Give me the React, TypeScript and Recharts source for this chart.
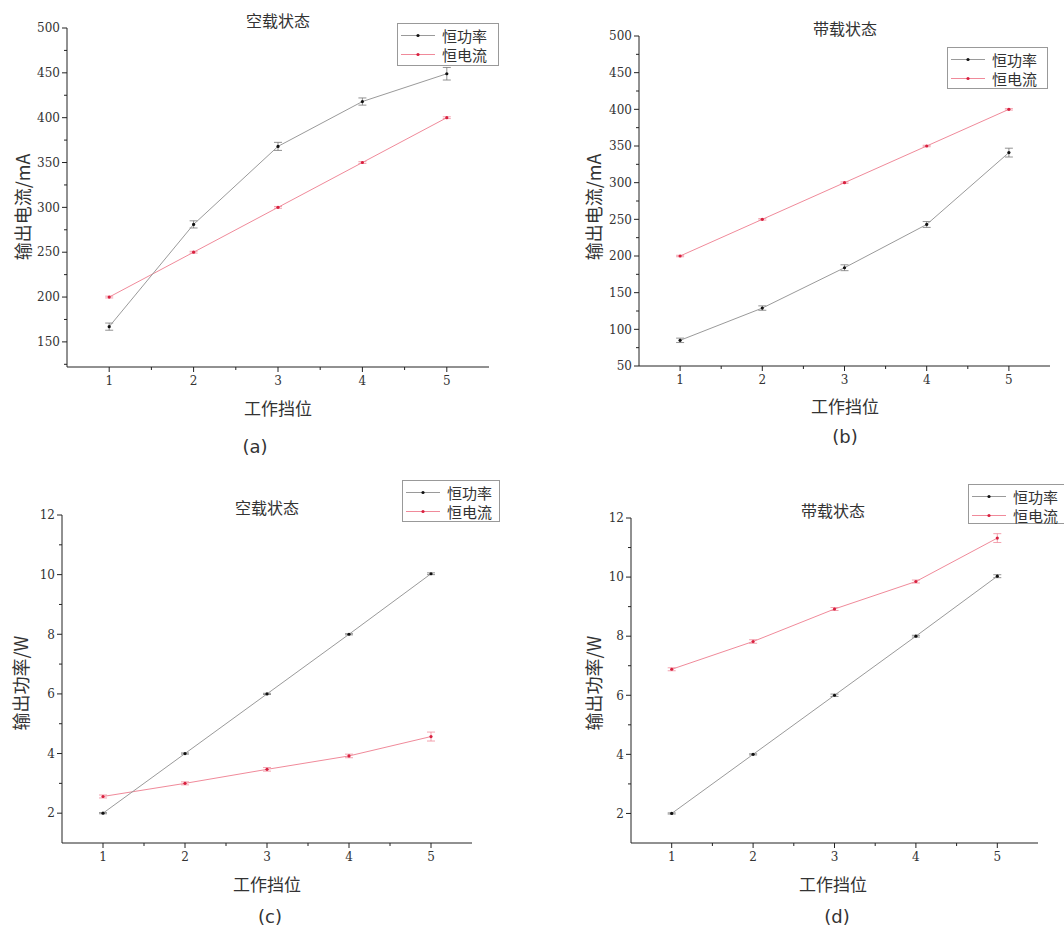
import React from 'react';
import { LineChart, Line, XAxis, YAxis, ErrorBar } from 'recharts';

const gears = [1, 2, 3, 4, 5];
const xMajor = [1, 2, 3, 4, 5];
const xMinor = [1.5, 2.5, 3.5, 4.5];

// (a) 空载状态 – current
const aPower = [167, 281, 368, 418, 449];
const aPowerErr = [4, 4, 4.5, 4, 7];
const aCurrent = [200, 250, 300, 350, 400];
const aCurrentErr = [1, 1, 1, 1, 1];
const aTicks = [150, 200, 250, 300, 350, 400, 450, 500];
const aMinor = [125, 175, 225, 275, 325, 375, 425, 475];

// (b) 带载状态 – current
const bPower = [85, 129, 184, 243, 341];
const bPowerErr = [3, 3, 4, 4, 6];
const bCurrent = [200, 250, 300, 350, 400];
const bCurrentErr = [1, 1, 1, 1, 1];
const bTicks = [50, 100, 150, 200, 250, 300, 350, 400, 450, 500];
const bMinor = [75, 125, 175, 225, 275, 325, 375, 425, 475];

// (c) 空载状态 – power
const cPower = [2, 4, 6, 8, 10.03];
const cPowerErr = [0.02, 0.02, 0.02, 0.02, 0.03];
const cCurrent = [2.56, 3.0, 3.47, 3.92, 4.57];
const cCurrentErr = [0.05, 0.05, 0.06, 0.06, 0.15];

// (d) 带载状态 – power
const dPower = [2, 4, 6, 8, 10.03];
const dPowerErr = [0.02, 0.02, 0.04, 0.03, 0.05];
const dCurrent = [6.88, 7.82, 8.92, 9.85, 11.32];
const dCurrentErr = [0.05, 0.06, 0.05, 0.05, 0.15];

const wTicks = [2, 4, 6, 8, 10, 12];
const wMinor = [3, 5, 7, 9, 11];

const seriesNames = ['恒功率', '恒电流'];

const mk = (p: number[], pe: number[], c: number[], ce: number[]) =>
  gears.map((g, i) => ({ x: g, p: p[i], pe: pe[i], c: c[i], ce: ce[i] }));

const CJK = '"Noto Sans CJK SC", "Noto Sans", sans-serif';
const SERIF = '"DejaVu Serif", "Liberation Serif", serif';

const GRAY = '#9a9a9a';
const PINK = '#f08a9a';
const RED = '#d8203f';

const TS = 5;   // tick size (major)
const TM = 4;   // tick margin
const MINOR = 3;

const makeXTick = (majors: number[]) => (props: any) => {
  const { x, y, payload } = props;
  const v = payload.value;
  const axisY = y - TS - TM;
  const major = majors.indexOf(v) >= 0;
  return (
    <g>
      <line x1={x} x2={x} y1={axisY} y2={axisY + (major ? TS : MINOR)} stroke="#222" strokeWidth={1} />
      {major && (
        <text x={x} y={y} dy="0.71em" textAnchor="middle" fontFamily={SERIF} fontSize={12} fill="#333">{v}</text>
      )}
    </g>
  );
};

const makeYTick = (majors: number[]) => (props: any) => {
  const { x, y, payload } = props;
  const v = payload.value;
  const axisX = x + TS + TM;
  const major = majors.indexOf(v) >= 0;
  return (
    <g>
      <line x1={axisX - (major ? TS : MINOR)} x2={axisX} y1={y} y2={y} stroke="#222" strokeWidth={1} />
      {major && (
        <text x={axisX - TS - 2} y={y} dy="0.355em" textAnchor="end" fontFamily={SERIF} fontSize={12} fill="#333">{v}</text>
      )}
    </g>
  );
};

type PanelProps = {
  left: number; top: number; width: number; height: number;
  margin: { top: number; right: number; bottom: number; left: number };
  data: any[]; yDomain: [number, number]; yTicks: number[]; yMinor: number[];
};

function Panel({ left, top, width, height, margin, data, yDomain, yTicks, yMinor }: PanelProps) {
  const yAll = [...yTicks, ...yMinor].sort((a, b) => a - b);
  const xAll = [...xMajor, ...xMinor].sort((a, b) => a - b);
  return (
    <div style={{ position: 'absolute', left, top }}>
      <LineChart width={width} height={height} data={data} margin={margin}>
        <XAxis type="number" dataKey="x" domain={[0.5, 5.5]} ticks={xAll}
          height={30} axisLine={{ stroke: '#222' }} tickLine={false} tickSize={TS} tickMargin={TM}
          tick={makeXTick(xMajor)} allowDataOverflow interval={0} />
        <YAxis type="number" domain={yDomain} ticks={yAll}
          width={45} axisLine={{ stroke: '#222' }} tickLine={false} tickSize={TS} tickMargin={TM}
          tick={makeYTick(yTicks)} allowDataOverflow interval={0} />
        <Line type="linear" dataKey="c" name={seriesNames[1]}
          stroke={PINK} strokeWidth={1} isAnimationActive={false}
          dot={{ r: 1.6, fill: RED, stroke: RED, strokeWidth: 0 }} activeDot={false}>
          <ErrorBar dataKey="ce" direction="y" width={4} stroke={PINK} strokeWidth={0.8} isAnimationActive={false} />
        </Line>
        <Line type="linear" dataKey="p" name={seriesNames[0]}
          stroke={GRAY} strokeWidth={1} isAnimationActive={false}
          dot={{ r: 1.6, fill: '#111', stroke: '#111', strokeWidth: 0 }} activeDot={false}>
          <ErrorBar dataKey="pe" direction="y" width={4} stroke="#777" strokeWidth={0.8} isAnimationActive={false} />
        </Line>
      </LineChart>
    </div>
  );
}

function Txt({ x, y, children, size, font, rotate, color }: any) {
  return (
    <div style={{
      position: 'absolute', left: x, top: y, whiteSpace: 'nowrap',
      transform: `translate(-50%, -50%)${rotate ? ` rotate(${rotate}deg)` : ''}`,
      fontFamily: font || CJK, fontSize: size, color: color || '#333', lineHeight: 1,
    }}>{children}</div>
  );
}

function LegendBox({ x, y, w, h }: any) {
  const row = (i: number) => (
    <div style={{ position: 'absolute', left: 0, top: 2 + i * 19, height: 19, display: 'flex', alignItems: 'center', lineHeight: 1 }}>
      <svg width={40} height={19} style={{ display: 'block' }}>
        <line x1={3} y1={9.5} x2={37} y2={9.5} stroke={i === 0 ? GRAY : PINK} strokeWidth={1} />
        <circle cx={20} cy={9.5} r={1.6} fill={i === 0 ? '#111' : RED} />
      </svg>
      <span style={{ fontFamily: CJK, fontSize: 15, color: '#333', marginLeft: 4, lineHeight: 1 }}>{seriesNames[i]}</span>
    </div>
  );
  return (
    <div style={{ position: 'absolute', left: x, top: y, width: w, height: h, border: '1px solid #999', background: '#fff', boxSizing: 'border-box' }}>
      {row(0)}
      {row(1)}
    </div>
  );
}

export default function App() {
  return (
    <div style={{ position: 'absolute', left: 0, top: 0, width: 1064, height: 938, background: '#fff', overflow: 'hidden' }}>
      <Panel left={0} top={0} width={530} height={470}
        margin={{ top: 28, right: 41, bottom: 73, left: 22 }}
        data={mk(aPower, aPowerErr, aCurrent, aCurrentErr)} yDomain={[122, 500]} yTicks={aTicks} yMinor={aMinor} />
      <Panel left={530} top={0} width={534} height={470}
        margin={{ top: 36, right: 14, bottom: 74, left: 64 }}
        data={mk(bPower, bPowerErr, bCurrent, bCurrentErr)} yDomain={[50, 500]} yTicks={bTicks} yMinor={bMinor} />
      <Panel left={0} top={470} width={530} height={468}
        margin={{ top: 45, right: 58, bottom: 65, left: 17 }}
        data={mk(cPower, cPowerErr, cCurrent, cCurrentErr)} yDomain={[1, 12]} yTicks={wTicks} yMinor={wMinor} />
      <Panel left={530} top={470} width={534} height={468}
        margin={{ top: 48, right: 26, bottom: 65, left: 56 }}
        data={mk(dPower, dPowerErr, dCurrent, dCurrentErr)} yDomain={[1, 12]} yTicks={wTicks} yMinor={wMinor} />

      <Txt x={278} y={20} size={16}>空载状态</Txt>
      <Txt x={845} y={28} size={16}>带载状态</Txt>
      <Txt x={267} y={507} size={16}>空载状态</Txt>
      <Txt x={833} y={510} size={16}>带载状态</Txt>

      <Txt x={22} y={207} size={18} rotate={-90}>输出电流/mA</Txt>
      <Txt x={593} y={207} size={18} rotate={-90}>输出电流/mA</Txt>
      <Txt x={20} y={683} size={18} rotate={-90}>输出功率/W</Txt>
      <Txt x={593} y={683} size={18} rotate={-90}>输出功率/W</Txt>

      <Txt x={278} y={407} size={17}>工作挡位</Txt>
      <Txt x={845} y={405} size={17}>工作挡位</Txt>
      <Txt x={267} y={883} size={17}>工作挡位</Txt>
      <Txt x={833} y={883} size={17}>工作挡位</Txt>

      <Txt x={255} y={447} size={18} font={'"DejaVu Sans", sans-serif'}>(a)</Txt>
      <Txt x={845} y={437} size={18} font={'"DejaVu Sans", sans-serif'}>(b)</Txt>
      <Txt x={270} y={917} size={18} font={'"DejaVu Sans", sans-serif'}>(c)</Txt>
      <Txt x={837} y={917} size={18} font={'"DejaVu Sans", sans-serif'}>(d)</Txt>

      <LegendBox x={397} y={23} w={102} h={43} />
      <LegendBox x={947} y={47} w={101} h={42} />
      <LegendBox x={402} y={480} w={98} h={42} />
      <LegendBox x={968} y={484} w={100} h={40} />
    </div>
  );
}
